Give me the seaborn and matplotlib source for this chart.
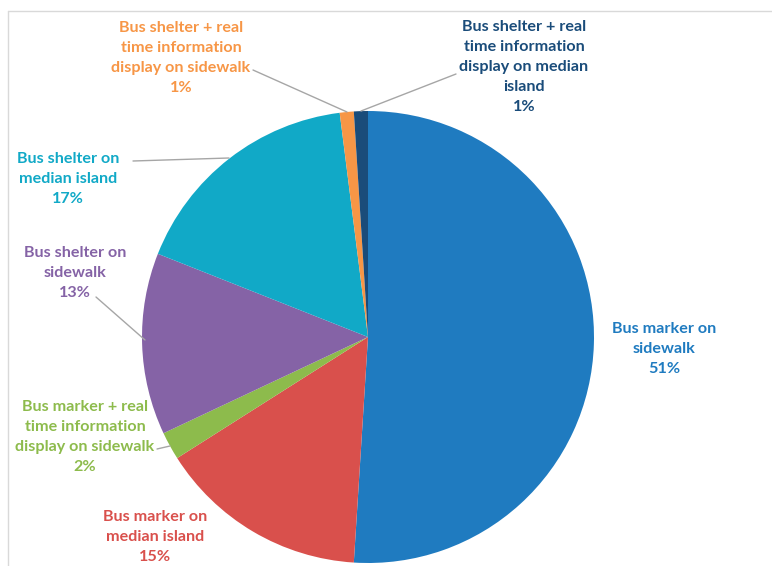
import matplotlib
matplotlib.use("Agg")
import matplotlib.pyplot as plt
import seaborn as sns

categories = [
    "Bus marker on\nsidewalk",
    "Bus marker on\nmedian island",
    "Bus marker + real\ntime information\ndisplay on sidewalk",
    "Bus shelter on\nsidewalk",
    "Bus shelter on\nmedian island",
    "Bus shelter + real\ntime information\ndisplay on sidewalk",
    "Bus shelter + real\ntime information\ndisplay on median\nisland",
]
values = [51, 15, 2, 13, 17, 1, 1]
colors = ["#1F7BC0", "#D9504C", "#8DBB4C", "#8563A6", "#11A9C7", "#F79646", "#1A4C7A"]

sns.set_theme(style="white")
plt.rcParams["font.family"] = ["Lato", "DejaVu Sans"]

W, H = 772, 566
CX, CY, R = 368, 337, 226

def px(x, y):
    return ((x - CX) / R, (CY - y) / R)

fig = plt.figure(figsize=(W / 100, H / 100), dpi=100)
ax = fig.add_axes([0, 0, 1, 1])
pal = sns.color_palette(colors)
ax.pie(values, colors=pal, startangle=90, counterclock=False,
       wedgeprops=dict(linewidth=0))
ax.set_xlim((0 - CX) / R, (W - CX) / R)
ax.set_ylim((CY - H) / R, CY / R)
ax.set_aspect("auto")
ax.axis("off")

# frame lines of the original chart area
ax.plot([(8 - CX) / R, (W - CX) / R], [(CY - 11) / R] * 2, color="#D9D9D9", lw=1, clip_on=False)
ax.plot([(8 - CX) / R] * 2, [(CY - 11) / R, (CY - H) / R], color="#D9D9D9", lw=1, clip_on=False)

# label centre (px), leader start (px) or None, leader end (px)
label_pos = [
    ((664, 349), None, None),
    ((155, 537), None, None),
    ((85, 437), (157, 449), (170, 446)),
    ((75, 273), (96, 297), (145, 340)),
    ((68, 179), (133, 161), (229, 158)),
    ((181, 58), (253, 70), (347, 112)),
    ((524, 67), (456, 74), (361, 111)),
]

for cat, val, col, (cpos, lstart, lend) in zip(categories, values, colors, label_pos):
    ax.text(*px(*cpos), f"{cat}\n{val}%", ha="center", va="center",
            multialignment="center", color=col, fontsize=11.6,
            fontweight="bold", linespacing=1.55)
    if lstart is not None:
        (x0, y0), (x1, y1) = px(*lstart), px(*lend)
        ax.plot([x0, x1], [y0, y1], color="#A6A6A6", lw=1)

fig.savefig("out.png", dpi=100)
